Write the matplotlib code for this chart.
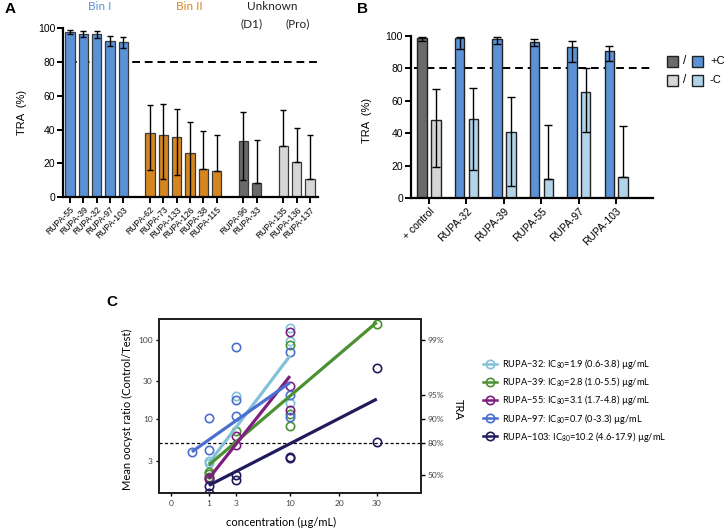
import numpy as np
import matplotlib
matplotlib.use('Agg')
import matplotlib.pyplot as plt
from matplotlib.patches import Rectangle
from matplotlib.lines import Line2D
from matplotlib.ticker import NullLocator

plt.rcParams['font.family'] = ['Liberation Sans', 'DejaVu Sans']
CFONT = ['Lato', 'DejaVu Sans']

# ---- panel A data
a_labels = ['RUPA-55', 'RUPA-39', 'RUPA-32', 'RUPA-97', 'RUPA-103',
            'RUPA-62', 'RUPA-73', 'RUPA-133', 'RUPA-126', 'RUPA-38', 'RUPA-115',
            'RUPA-96', 'RUPA-33',
            'RUPA-135', 'RUPA-136', 'RUPA-137']
a_group_sizes = [5, 6, 2, 3]
a_tra = [97.5, 96.5, 96.3, 92.3, 91.8, 38.2, 36.9, 35.7, 25.9, 16.5, 15.5,
         33.1, 8.6, 30.2, 20.6, 11.0]
a_err_lo = [1.3, 1.8, 2.0, 2.9, 3.4, 22.3, 26.1, 22.8, 25.5, 0, 0, 23.1, 0, 0, 0, 0]
a_err_hi = [1.3, 1.8, 2.0, 2.9, 2.9, 16.5, 18.5, 16.4, 18.7, 22.7, 21.4,
            17.0, 25.1, 21.1, 20.2, 25.7]

# ---- panel B data
b_labels = ['+ control', 'RUPA-32', 'RUPA-39', 'RUPA-55', 'RUPA-97', 'RUPA-103']
b_plus = [98.6, 98.6, 98.0, 96.2, 93.3, 90.5]
b_plus_lo = [1.5, 6.7, 2.8, 2.3, 9.3, 5.7]
b_plus_hi = [1.0, 1.0, 1.2, 1.8, 3.7, 3.6]
b_minus = [48.5, 49.0, 40.6, 12.1, 65.7, 12.9]
b_minus_lo = [29.4, 31.8, 33.0, 0, 25.1, 0]
b_minus_hi = [18.6, 19.1, 21.6, 32.8, 14.3, 31.6]

# ---- panel C data
c_names = ['RUPA\u221232', 'RUPA\u221239', 'RUPA\u221255', 'RUPA\u221297', 'RUPA\u2212103']
c_ic80 = ['1.9 (0.6-3.8)', '2.8 (1.0-5.5)', '3.1 (1.7-4.8)', '0.7 (0-3.3)', '10.2 (4.6-17.9)']
c_conc = [[1, 1, 3, 10, 10, 10],
          [1, 1, 1, 3, 10, 10, 10, 30],
          [1, 1, 3, 3, 10, 10, 10],
          [0.3, 1, 1, 3, 3, 3, 10, 10, 10],
          [1, 1, 3, 3, 10, 10, 30, 30]]
c_ratio = [[3.0, 2.8, 19.7, 143, 98, 16],
           [2.2, 2.05, 1.9, 7.2, 86, 11.7, 8.3, 159],
           [1.85, 1.78, 6.2, 4.7, 127, 26, 13],
           [3.9, 10.5, 4.1, 81, 17.5, 10.9, 70, 20, 10.8],
           [1.46, 1.17, 2.0, 1.72, 3.4, 3.3, 44, 5.2]]
fit_conc = [[1, 10], [1, 30], [1, 10], [0.3, 10], [1, 30]]
fit_ratio = [[2.8, 63], [2.66, 167], [1.8, 35], [3.9, 29], [1.47, 18]]
tra_ticks = [2, 5, 10, 20, 100]
tra_labels = ['50%', '80%', '90%', '95%', '99%']

W, H = 726, 530
fig = plt.figure(figsize=(W / 100, H / 100), dpi=100)


def box(l, t, r, b):
    return [l / W, 1 - b / H, (r - l) / W, (b - t) / H]


def style_axes(ax):
    for s in ['top', 'right']:
        ax.spines[s].set_visible(False)
    for s in ['left', 'bottom']:
        ax.spines[s].set_linewidth(1.6)
    ax.tick_params(width=1.4, length=4, labelsize=7.5, pad=1.5)


# ---------------- A
axA = fig.add_axes(box(63, 28, 318, 197.3))
pos = []
start = 0
for n in a_group_sizes:
    pos += list(range(start, start + n))
    start += n + 1
pos = np.array(pos)
colsA = ['#5b92d7'] * 5 + ['#d6861e'] * 6 + ['#6a6a6a'] * 2 + ['#d6d6d6'] * 3
axA.hlines(80, -0.1, 18.6, colors='black', linestyles=(0, (4, 2.5)), lw=1.4, zorder=0.5)
axA.bar(pos, a_tra, width=0.7, color=colsA, edgecolor='#3a3a3a', lw=0.9, zorder=2)
axA.errorbar(pos, a_tra, yerr=[a_err_lo, a_err_hi], fmt='none', ecolor='black',
             elinewidth=1.0, capsize=2.5, capthick=1.0, zorder=3)
axA.set_xlim(-0.525, 18.6)
axA.set_ylim(0, 100)
axA.set_yticks([0, 20, 40, 60, 80, 100])
axA.set_xticks(pos)
axA.set_xticklabels(a_labels, rotation=45, ha='right', rotation_mode='anchor')
style_axes(axA)
axA.tick_params(axis='x', labelsize=6.2)
axA.set_ylabel('TRA  (%)', fontsize=8, va='center')
axA.yaxis.set_label_coords(-0.16, 0.5)

fig.text(10 / W, 1 - 9 / H, 'A', fontsize=11, fontweight='bold', va='center', ha='center')
fig.text(100 / W, 1 - 7 / H, 'Bin I', color='#5b92d7', fontsize=8.5, ha='center', va='center', family=CFONT)
fig.text(189 / W, 1 - 7 / H, 'Bin II', color='#d6861e', fontsize=8.5, ha='center', va='center', family=CFONT)
fig.text(272 / W, 1 - 7 / H, 'Unknown', color='#222222', fontsize=8.5, ha='center', va='center', family=CFONT)
fig.text(252 / W, 1 - 24 / H, '(D1)', color='#222222', fontsize=8.5, ha='center', va='center', family=CFONT)
fig.text(298 / W, 1 - 24 / H, '(Pro)', color='#222222', fontsize=8.5, ha='center', va='center', family=CFONT)

# ---------------- B
axB = fig.add_axes(box(410.7, 36, 653.3, 198.3))
xb = np.arange(len(b_labels))
off = 0.185
bw = 0.25
plus_cols = ['#6a6a6a'] + ['#5b92d7'] * 5
minus_cols = ['#d6d6d6'] + ['#b2d4e8'] * 5
axB.hlines(80, -0.4, 5.99, colors='black', linestyles=(0, (4, 2.5)), lw=1.4, zorder=0.5)
axB.bar(xb - off, b_plus, width=bw, color=plus_cols, edgecolor='#222222', lw=1.0, zorder=2)
axB.bar(xb + off, b_minus, width=bw, color=minus_cols, edgecolor='#222222', lw=1.0, zorder=2)
axB.errorbar(xb - off, b_plus, yerr=[b_plus_lo, b_plus_hi], fmt='none', ecolor='black',
             elinewidth=1.0, capsize=3, capthick=1.0, zorder=3)
axB.errorbar(xb + off, b_minus, yerr=[b_minus_lo, b_minus_hi], fmt='none', ecolor='black',
             elinewidth=1.0, capsize=3, capthick=1.0, zorder=3)
axB.set_xlim(-0.49, 5.99)
axB.set_ylim(0, 100)
axB.set_yticks([0, 20, 40, 60, 80, 100])
axB.set_xticks(xb)
axB.set_xticklabels(b_labels, rotation=45, ha='right', rotation_mode='anchor')
style_axes(axB)
axB.set_ylabel('TRA  (%)', fontsize=8, va='center')
axB.yaxis.set_label_coords(-0.18, 0.48)
fig.text(363 / W, 1 - 9 / H, 'B', fontsize=11, fontweight='bold', va='center', ha='center')

# legend squares for B
def sq(x, y, c):
    fig.add_artist(Rectangle((x / W, 1 - (y + 5.5) / H), 11 / W, 11 / H, facecolor=c,
                             edgecolor='#222222', lw=1.0, transform=fig.transFigure))

sq(667, 61, '#6a6a6a')
sq(692, 61, '#5b92d7')
sq(667, 80, '#d6d6d6')
sq(692, 80, '#b2d4e8')
fig.text(685 / W, 1 - 61 / H, '/', fontsize=8.5, ha='center', va='center')
fig.text(685 / W, 1 - 80 / H, '/', fontsize=8.5, ha='center', va='center')
fig.text(710 / W, 1 - 61 / H, '+C', fontsize=8, ha='left', va='center')
fig.text(710 / W, 1 - 80 / H, '-C', fontsize=8, ha='left', va='center')

# ---------------- C
c_cols = ['#82c1d8', '#4b9131', '#7c1f7e', '#4a6fd0', '#1f1b5c']


def fwd(x):
    return np.sign(x) * np.sqrt(np.abs(x))


def inv(y):
    return np.sign(y) * y ** 2


axC = fig.add_axes(box(159, 319.3, 421, 493.3))
axC.set_xscale('function', functions=(fwd, inv))
axC.set_yscale('log')
axC.set_xlim(-0.108, 44.3)
axC.set_ylim(1.17, 182)
axC.axhline(5, color='black', ls=(0, (2.5, 1.8)), lw=0.9, zorder=1)
for i in range(len(c_names)):
    axC.plot(c_conc[i], c_ratio[i], ls='none', marker='o', ms=6.0, mfc='none',
             mec=c_cols[i], mew=1.2, zorder=3)
for i in range(len(c_names)):
    axC.plot(fit_conc[i], fit_ratio[i], color=c_cols[i], lw=2.3, zorder=4,
             solid_capstyle='butt')
axC.set_xticks([0, 1, 3, 10, 20, 30])
axC.set_xticklabels(['0', '1', '3', '10', '20', '30'])
axC.set_yticks([3, 10, 30, 100])
axC.set_yticklabels(['3', '10', '30', '100'])
axC.yaxis.set_minor_locator(NullLocator())
axC.xaxis.set_minor_locator(NullLocator())
for s in axC.spines.values():
    s.set_linewidth(1.4)
    s.set_color('#222222')
axC.tick_params(labelsize=6, length=2.5, width=1, pad=2, labelcolor='#444444')
for t in axC.get_xticklabels() + axC.get_yticklabels():
    t.set_family(CFONT)
axC.set_ylabel('Mean oocyst ratio (Control/Test)', fontsize=8, family=CFONT, va='center')
axC.yaxis.set_label_coords(-0.122, 0.48)
axC.set_xlabel('concentration (\u00b5g/mL)', fontsize=8, family=CFONT, va='center')
axC.xaxis.set_label_coords(0.466, -0.165)

axR = axC.twinx()
axR.set_yscale('log')
axR.set_ylim(axC.get_ylim())
axR.set_yticks(tra_ticks)
axR.set_yticklabels(tra_labels)
axR.yaxis.set_minor_locator(NullLocator())
for s in axR.spines.values():
    s.set_linewidth(1.4)
    s.set_color('#222222')
axR.tick_params(labelsize=6, length=3, width=1, pad=2, labelcolor='#444444')
for t in axR.get_yticklabels():
    t.set_family(CFONT)
axR.set_ylabel('TRA', fontsize=8, rotation=-90, family=CFONT, va='center')
axR.yaxis.set_label_coords(1.141, 0.48)

fig.text(112 / W, 1 - 302 / H, 'C', fontsize=11, fontweight='bold', va='center', ha='center')

handles = [Line2D([0], [0], color=c, lw=1.8, marker='o', ms=6, mfc='none', mew=1.2)
           for c in c_cols]
labels = [f'{n}: IC$_{{\\mathregular{{80}}}}$={v} \u00b5g/mL' for n, v in zip(c_names, c_ic80)]
fig.legend(handles, labels, loc='upper left', bbox_to_anchor=(483 / W, 1 - 357 / H),
           frameon=False, handlelength=1.5, handletextpad=0.55,
           labelspacing=0.45, borderpad=0, borderaxespad=0, prop={'family': CFONT, 'size': 6.7})

fig.savefig('out.png', dpi=100)
